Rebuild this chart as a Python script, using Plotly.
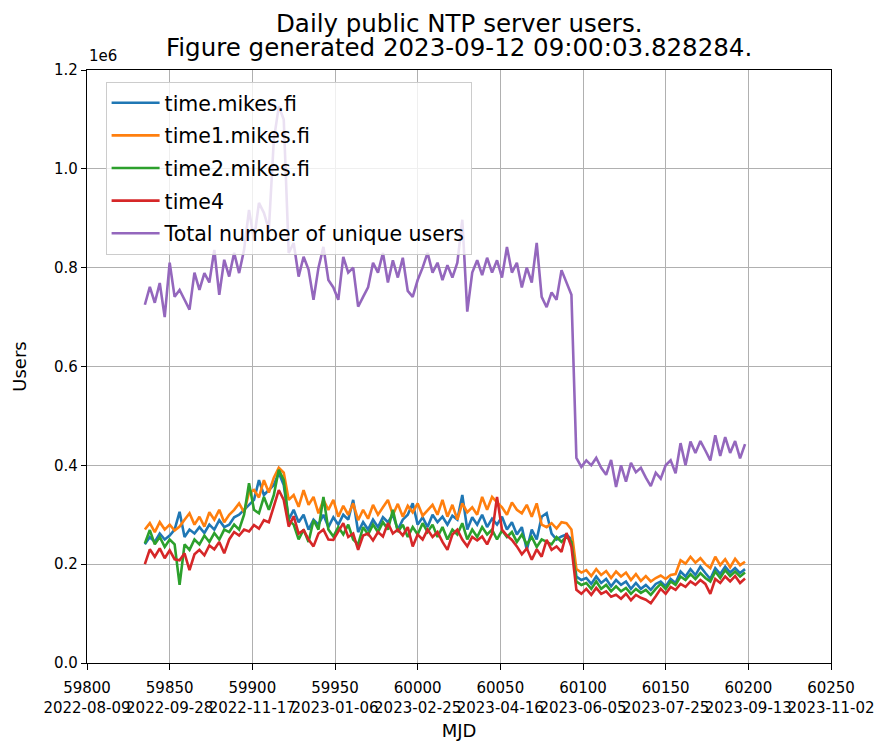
import plotly.graph_objects as go

# Daily samples (every 3rd day), MJD
mjd = list(range(59835, 60199, 3))

# values in thousands of users
total_k = [725, 761, 729, 769, 700, 810, 741, 755, 735, 715,
           790, 755, 789, 770, 836, 745, 816, 782, 830, 789,
           836, 917, 856, 931, 911, 877, 1059, 1126, 1100, 830,
           850, 782, 822, 796, 735, 800, 842, 775, 760, 735,
           822, 790, 800, 721, 741, 760, 810, 790, 830, 770,
           815, 780, 820, 753, 741, 775, 800, 830, 790, 810,
           775, 805, 780, 810, 897, 711, 790, 815, 785, 820,
           790, 815, 780, 842, 790, 810, 760, 800, 770, 850,
           741, 720, 750, 735, 795, 770, 745, 415, 397, 410,
           400, 415, 395, 381, 411, 356, 400, 367, 405, 386,
           395, 375, 358, 385, 373, 400, 410, 384, 445, 400,
           448, 425, 449, 430, 410, 461, 419, 457, 425, 449,
           414, 443]

time4_k = [200, 230, 215, 232, 212, 228, 210, 208, 222, 188,
           220, 229, 218, 238, 230, 245, 222, 250, 265, 258,
           270, 266, 279, 272, 289, 285, 317, 350, 330, 276,
           297, 262, 269, 250, 236, 262, 270, 250, 249, 265,
           283, 255, 262, 229, 258, 262, 248, 265, 256, 283,
           262, 270, 258, 275, 236, 260, 250, 270, 255, 265,
           245, 229, 260, 270, 250, 236, 255, 248, 256, 240,
           262, 336, 270, 258, 249, 236, 220, 232, 209, 230,
           215, 249, 229, 236, 225, 263, 235, 148, 140, 150,
           138, 152, 140, 145, 134, 138, 130, 140, 127, 138,
           132, 128, 121, 135, 150, 140, 154, 148, 160, 154,
           165, 158, 168, 160, 140, 170, 162, 175, 165, 176,
           162, 171]

time1_k = [270, 283, 265, 285, 270, 280, 268, 276, 290, 303,
           280, 296, 276, 305, 290, 310, 285, 300, 310, 323,
           305, 345, 350, 335, 370, 345, 375, 395, 385, 330,
           340, 316, 350, 320, 336, 303, 330, 310, 330, 296,
           318, 300, 323, 289, 310, 292, 320, 300, 315, 330,
           300, 322, 296, 318, 305, 323, 298, 310, 320, 300,
           330, 296, 320, 290, 323, 305, 315, 300, 336, 310,
           336, 325, 315, 300, 325, 310, 303, 320, 296, 323,
           280, 275, 283, 272, 285, 283, 270, 190, 183, 188,
           176, 190, 178, 186, 172, 185, 175, 183, 168, 180,
           166, 176, 165, 172, 177, 170, 178, 180, 208, 201,
           215, 203, 212, 200, 192, 215, 198, 210, 194, 211,
           198, 205]

time_k = [240, 255, 245, 262, 250, 258, 270, 306, 255, 270,
          262, 275, 263, 280, 270, 289, 275, 280, 295, 300,
          310, 320, 330, 370, 340, 350, 360, 385, 360, 290,
          310, 285, 300, 270, 290, 280, 300, 275, 295, 280,
          300, 290, 330, 265, 285, 270, 290, 275, 295, 285,
          300, 270, 290, 300, 323, 280, 295, 275, 300, 285,
          296, 280, 298, 290, 340, 270, 295, 280, 300, 275,
          292, 280, 296, 270, 285, 260, 275, 229, 270, 250,
          296, 303, 262, 250, 256, 260, 250, 175, 168, 172,
          160, 175, 162, 170, 155, 168, 158, 165, 150, 162,
          150, 158, 148, 160, 165, 155, 170, 162, 185, 175,
          190, 178, 195, 182, 170, 192, 180, 195, 183, 192,
          182, 190]

time2_k = [242, 269, 240, 255, 235, 250, 240, 158, 240, 229,
           250, 240, 258, 245, 263, 250, 270, 265, 280, 270,
           300, 364, 310, 303, 336, 310, 340, 391, 370, 289,
           280, 250, 270, 245, 289, 270, 336, 270, 256, 275,
           260, 280, 250, 240, 275, 260, 280, 265, 285, 270,
           310, 265, 280, 255, 275, 260, 283, 265, 280, 255,
           275, 250, 270, 260, 283, 250, 270, 255, 275, 260,
           270, 250, 268, 255, 265, 245, 260, 240, 255, 235,
           250, 245, 240, 255, 245, 256, 245, 165, 158, 162,
           150, 165, 150, 158, 145, 155, 145, 152, 140, 150,
           142, 148, 138, 150, 160, 150, 165, 158, 175, 168,
           180, 170, 182, 172, 165, 185, 172, 188, 176, 185,
           175, 183]

series_names = ["time.mikes.fi", "time1.mikes.fi", "time2.mikes.fi", "time4",
                "Total number of unique users"]
series_vals = [time_k, time1_k, time2_k, time4_k, total_k]
colors = ["#1f77b4", "#ff7f0e", "#2ca02c", "#d62728", "#9467bd"]

x_tickvals = [59800, 59850, 59900, 59950, 60000, 60050, 60100, 60150, 60200, 60250]
x_dates = ["2022-08-09", "2022-09-28", "2022-11-17", "2023-01-06", "2023-02-25",
           "2023-04-16", "2023-06-05", "2023-07-25", "2023-09-13", "2023-11-02"]
y_tickvals = [0, 200000, 400000, 600000, 800000, 1000000, 1200000]
y_ticktext = ["0.0", "0.2", "0.4", "0.6", "0.8", "1.0", "1.2"]
title_lines = ["Daily public NTP server users.",
               "Figure generated 2023-09-12 09:00:03.828284."]

FONT = "DejaVu Sans"

fig = go.Figure()
for i, (name, vals, col) in enumerate(zip(series_names, series_vals, colors)):
    fig.add_trace(go.Scatter(
        x=mjd, y=[v * 1000 for v in vals], mode="lines", name=name,
        line=dict(color=col, width=2.6), legendgroup=f"g{i}"))

fig.update_layout(
    width=875, height=741,
    margin=dict(l=79, r=52, t=62, b=86, autoexpand=False),
    paper_bgcolor="white", plot_bgcolor="white",
    font=dict(family=FONT, color="black", size=15),
    showlegend=True,
    legend=dict(x=0.025, y=0.98, xanchor="left", yanchor="top",
                bgcolor="rgba(255,255,255,0.8)", bordercolor="#cccccc", borderwidth=1,
                font=dict(family=FONT, size=20.5, color="black"),
                tracegroupgap=3, itemwidth=48),
)

fig.update_xaxes(
    range=[59800, 60250], tickmode="array", tickvals=x_tickvals,
    ticktext=[f"{v}<br>{d}" for v, d in zip(x_tickvals, x_dates)],
    tickangle=0, showgrid=True, gridcolor="#b0b0b0", gridwidth=1,
    showline=True, linecolor="black", linewidth=1.2, mirror=True,
    ticks="outside", ticklen=6, tickcolor="black", zeroline=False,
    ticklabelstandoff=5,
    tickfont=dict(family=FONT, size=15),
    title=dict(text="MJD", font=dict(family=FONT, size=18), standoff=8),
)
fig.update_yaxes(
    range=[0, 1200000], tickmode="array", tickvals=y_tickvals, ticktext=y_ticktext,
    showgrid=True, gridcolor="#b0b0b0", gridwidth=1,
    showline=True, linecolor="black", linewidth=1.2, mirror=True,
    ticks="outside", ticklen=5, tickcolor="black", zeroline=False,
    tickfont=dict(family=FONT, size=15),
    title=dict(text="Users", font=dict(family=FONT, size=18), standoff=22),
)

fig.add_annotation(text="1e6", xref="paper", yref="paper", x=0, y=1,
                   xanchor="left", yanchor="bottom", yshift=3, showarrow=False,
                   font=dict(family=FONT, size=15, color="black"))
for line, shift in zip(title_lines, [47, 23]):
    fig.add_annotation(text=line, xref="paper", yref="paper", x=0.5, y=1,
                       xanchor="center", yanchor="middle", yshift=shift, showarrow=False,
                       font=dict(family=FONT, size=24.5, color="black"))

fig.write_html("out.html")
